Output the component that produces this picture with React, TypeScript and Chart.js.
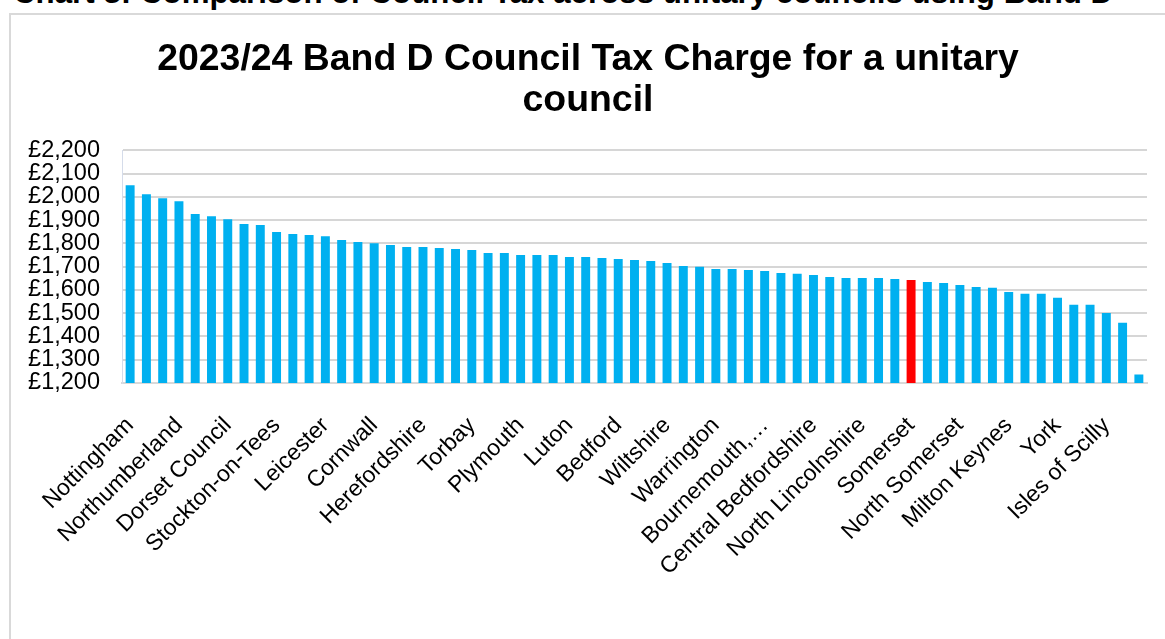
import React, { useEffect, useRef } from "react";
import { Chart, registerables } from "chart.js";

Chart.register(...registerables);

const FONT = "Arial, 'Liberation Sans', sans-serif";

const pageHeading = "Chart 3: Comparison of Council Tax across unitary councils using Band D";
const chartTitle = ["2023/24 Band D Council Tax Charge for a unitary", "council"];

// 63 unitary councils, sorted by Band D charge; only every third name is shown on the axis
const categories = [
  "Nottingham", "", "",
  "Northumberland", "", "",
  "Dorset Council", "", "",
  "Stockton-on-Tees", "", "",
  "Leicester", "", "",
  "Cornwall", "", "",
  "Herefordshire", "", "",
  "Torbay", "", "",
  "Plymouth", "", "",
  "Luton", "", "",
  "Bedford", "", "",
  "Wiltshire", "", "",
  "Warrington", "", "",
  "Bournemouth,…", "", "",
  "Central Bedfordshire", "", "",
  "North Lincolnshire", "", "",
  "Somerset", "", "",
  "North Somerset", "", "",
  "Milton Keynes", "", "",
  "York", "", "",
  "Isles of Scilly", "", "",
];

const bandD = [
  2050, 2011, 1994, 1981, 1926, 1917, 1904, 1883, 1879, 1849,
  1840, 1836, 1831, 1814, 1806, 1801, 1793, 1784, 1784, 1780,
  1776, 1771, 1759, 1759, 1750, 1750, 1750, 1741, 1741, 1737,
  1733, 1729, 1724, 1716, 1703, 1699, 1690, 1690, 1686, 1681,
  1673, 1669, 1664, 1656, 1651, 1651, 1651, 1647, 1643, 1634,
  1630, 1621, 1613, 1609, 1591, 1583, 1583, 1566, 1536, 1536,
  1501, 1459, 1236,
];

const highlighted = "Somerset";
const yTickValues = [1200, 1300, 1400, 1500, 1600, 1700, 1800, 1900, 2000, 2100, 2200];

const BLUE = "#00B0F0";
const RED = "#FF0000";

export default function App() {
  const canvasRef = useRef<HTMLCanvasElement | null>(null);

  useEffect(() => {
    if (!canvasRef.current) return;
    const colors = categories.map((c) => (c === highlighted ? RED : BLUE));
    const chart = new Chart(canvasRef.current, {
      type: "bar",
      data: {
        labels: categories,
        datasets: [
          {
            label: "Band D",
            data: bandD,
            backgroundColor: colors,
            borderWidth: 0,
            categoryPercentage: 1,
            barPercentage: 0.55,
          },
        ],
      },
      options: {
        animation: false,
        responsive: false,
        maintainAspectRatio: false,
        layout: { padding: 0 },
        plugins: {
          legend: { display: false },
          title: {
            display: true,
            text: chartTitle,
            color: "#000",
            font: { family: FONT, size: 37.4, weight: "bold", lineHeight: 1.1 },
            padding: { top: 24, bottom: 29 },
          },
        },
        scales: {
          x: {
            grid: { display: false, drawTicks: false },
            border: { display: true, color: "#d9d9d9", width: 2 },
            ticks: {
              autoSkip: false,
              maxRotation: 45,
              minRotation: 45,
              padding: 29,
              color: "#000",
              font: { family: FONT, size: 23 },
            },
            afterFit: (s: any) => {
              s.height = 256;
              s.paddingRight = 18;
              s.paddingLeft = 0;
            },
          },
          y: {
            min: 1200,
            max: 2200,
            afterBuildTicks: (s: any) => {
              s.ticks = yTickValues.map((v) => ({ value: v }));
            },
            ticks: {
              autoSkip: false,
              padding: 22,
              color: "#000",
              font: { family: FONT, size: 23.5 },
              callback: (v: any) => "£" + Number(v).toLocaleString("en-GB"),
            },
            grid: { color: "#d6d6d6", lineWidth: 2, drawTicks: false },
            border: { display: true, color: "#d5dcea", width: 1 },
            afterFit: (s: any) => {
              s.width = 111;
            },
          },
        },
      },
    });
    return () => chart.destroy();
  }, []);

  return (
    <div
      style={{
        position: "absolute",
        left: 0,
        top: 0,
        width: 1165,
        height: 639,
        overflow: "hidden",
        background: "#fff",
      }}
    >
      <div
        style={{
          position: "absolute",
          left: 13,
          top: -22,
          fontFamily: FONT,
          fontWeight: "bold",
          fontSize: "31.3px",
          lineHeight: "30px",
          whiteSpace: "nowrap",
          color: "#000",
        }}
      >
        {pageHeading}
      </div>
      <div
        style={{
          position: "absolute",
          left: 9,
          top: 13,
          width: 1200,
          height: 700,
          border: "2px solid #d9d9d9",
          boxSizing: "border-box",
        }}
      />
      <canvas
        ref={canvasRef}
        width={1154}
        height={624}
        style={{ position: "absolute", left: 11, top: 15, width: 1154, height: 624 }}
      />
    </div>
  );
}
